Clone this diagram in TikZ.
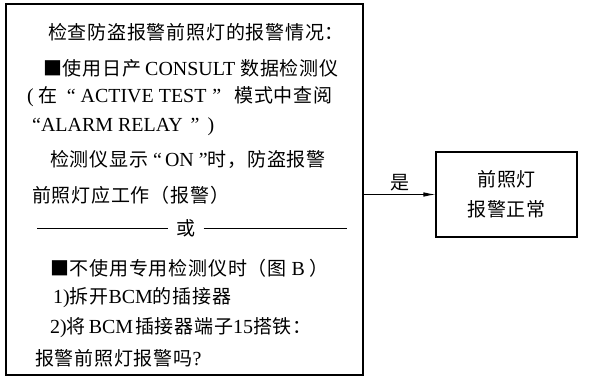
\documentclass[tikz,border=0pt]{standalone}
\usepackage{fontspec}
\setmainfont{Liberation Serif}[Scale=1.05]
\newfontfamily\cjk[LetterSpace=4]{Noto Sans CJK SC}
\usetikzlibrary{arrows.meta,positioning}

\begin{document}
\begin{tikzpicture}[x=1pt, y=-1pt,
    frame/.style={draw, line width=1.1pt, inner sep=0pt},
    txt/.style={font=\fontsize{19}{30}\selectfont, inner sep=0pt},
    row/.style={txt, anchor=west},
    link/.style={line width=0.9pt, -{Latex[length=12pt,width=4.5pt]}},
    rule/.style={line width=0.9pt}
]
    \useasboundingbox (0,0) rectangle (589,389);
    % boxes
    \node[frame, minimum width=357pt, minimum height=371pt] (check) at (184.5,189.5) {};
    \node[frame, txt, minimum width=141pt, minimum height=85pt, align=center] (ok) at (506.5,194.5)
        {{\cjk 前照灯}\\{\cjk 报警正常}};
    % text of the check box
    \node[row] (l1) at (48,32) {\cjk 检查防盗报警前照灯的报警情况：};
    \node[row] (l2) at (43,68) {{\cjk ■使用日产}\hspace{4pt}CONSULT\hspace{5pt}{\cjk 数据检测仪}};
    \node[row] (l3) at (27,97) {(\hspace{5pt}{\cjk 在}\hspace{9pt}“\hspace{5pt}ACTIVE TEST\hspace{6pt}”\hspace{13pt}{\cjk 模式中查阅}};
    \node[row] (l4) at (32,127) {“ALARM RELAY\hspace{8pt}”\hspace{8pt})};
    \node[row] (l5) at (50,159) {{\cjk 检测仪显示}\hspace{5pt}“\hspace{3pt}ON\hspace{5pt}”{\cjk 时，防盗报警}};
    \node[row] (l6) at (32,195) {\cjk 前照灯应工作（报警）};
    \node[txt] (or) at (186,228) {\cjk 或};
    \coordinate (orl) at (37,228);
    \coordinate (orr) at (347,228);
    \draw[rule] (orl) -- ([xshift=-8pt]or.west);
    \draw[rule] ([xshift=8pt]or.east) -- (orr);
    \node[row] (l7) at (50,268) {{\cjk ■不使用专用检测仪时（图}\hspace{5pt}B\hspace{5pt}{\cjk ）}};
    \node[row] (l8) at (53,298) {1){\cjk 拆开}BCM{\cjk 的插接器}};
    \node[row] (l9) at (50,328) {2){\cjk 将}\hspace{3pt}BCM\hspace{2pt}{\cjk 插接器端子}15{\cjk 搭铁：}};
    \node[row] (l10) at (35,358) {{\cjk 报警前照灯报警吗}?};
    % yes branch
    \draw[link] (ok.west -| check.east) -- (ok.west)
        node[midway, above=3pt, txt] (yes) {\cjk 是};
\end{tikzpicture}
\end{document}
